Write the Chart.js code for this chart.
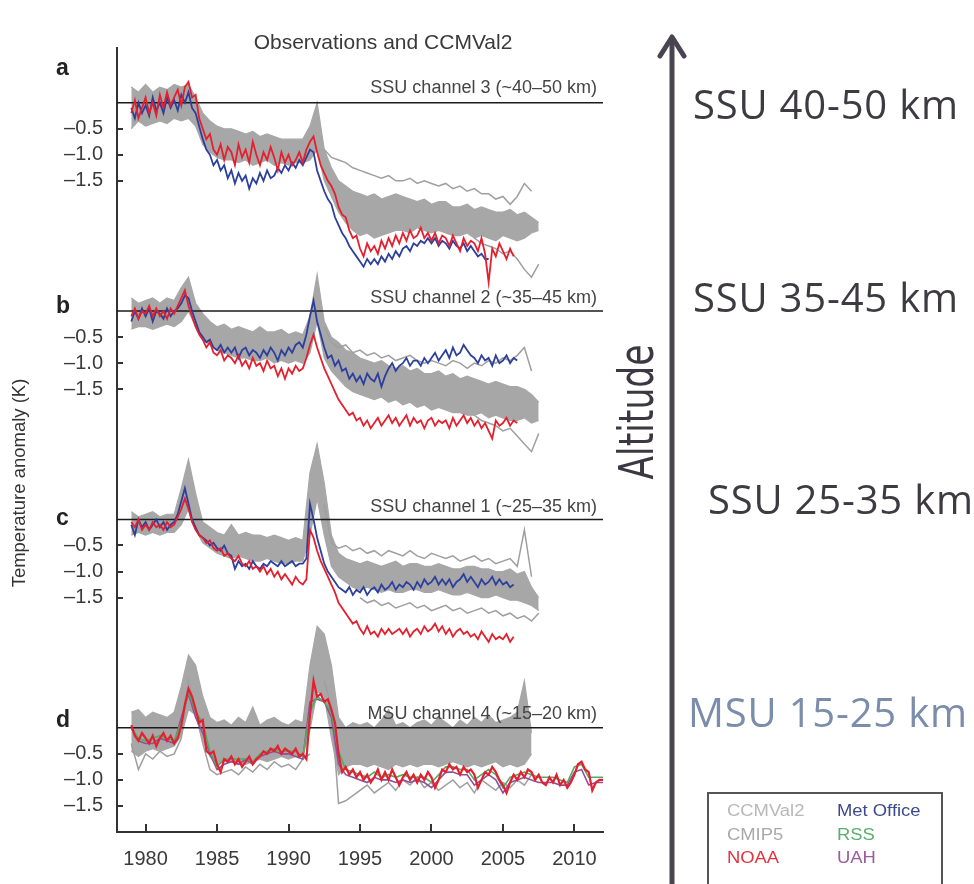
<!DOCTYPE html>
<html>
<head>
<meta charset="utf-8">
<script src="https://cdn.jsdelivr.net/npm/chart.js@4.4.1/dist/chart.umd.min.js"></script>
<style>
  html, body { margin: 0; padding: 0; background: #fff; }
  #wrap { position: relative; width: 974px; height: 884px; overflow: hidden; font-family: "Liberation Sans", Arial, sans-serif; }
  #chart { position: absolute; left: 0; top: 0; }
  .lbl { position: absolute; white-space: nowrap; line-height: 1; }
  .letter { font-weight: bold; font-size: 23px; color: #222; left: 56px; }
  .chan { font-size: 18px; color: #444; right: 377px; }
  .alt { font-family: "Open Sans", sans-serif; font-size: 40px; letter-spacing: 0.8px; color: #3e3a42; }
  #legend { position: absolute; left: 707px; top: 792px; width: 232px; height: 110px; border: 2px solid #555; background: #fff; }
  #legend div { position: absolute; font-size: 16px; line-height: 1; transform: scaleX(1.15); transform-origin: left top; }
</style>
</head>
<body>
<div id="wrap">
  <canvas id="chart" width="974" height="884"></canvas>

  <div class="lbl" style="left:383px;top:31px;font-size:21px;color:#3a3a3a;transform:translateX(-50%)">Observations and CCMVal2</div>
  <div class="lbl letter" style="top:56px">a</div>
  <div class="lbl letter" style="top:294px">b</div>
  <div class="lbl letter" style="top:506px">c</div>
  <div class="lbl letter" style="top:708px">d</div>
  <div class="lbl chan" style="top:78px">SSU channel 3 (~40–50 km)</div>
  <div class="lbl chan" style="top:288px">SSU channel 2 (~35–45 km)</div>
  <div class="lbl chan" style="top:497px">SSU channel 1 (~25–35 km)</div>
  <div class="lbl chan" style="top:704px">MSU channel 4 (~15–20 km)</div>
  <div class="lbl" style="left:19px;top:483px;font-size:18.5px;color:#333;transform:translate(-50%,-50%) rotate(-90deg)">Temperature anomaly (K)</div>

  <svg style="position:absolute;left:0;top:0" width="974" height="884">
    <line x1="672" y1="884" x2="672" y2="38" stroke="#4a4450" stroke-width="5"/>
    <polyline points="660,56 672,37 684,56" fill="none" stroke="#4a4450" stroke-width="5" stroke-linecap="round" stroke-linejoin="round"/>
  </svg>
  <div class="lbl" style="left:636px;top:412px;font-family:'Liberation Sans Narrow','DejaVu Sans Condensed',sans-serif;font-size:48px;color:#3c3742;transform:translate(-50%,-50%) rotate(-90deg) scaleX(0.8)">Altitude</div>
  <div class="lbl alt" style="left:693px;top:84px">SSU 40-50 km</div>
  <div class="lbl alt" style="left:693px;top:277px">SSU 35-45 km</div>
  <div class="lbl alt" style="left:708px;top:479px">SSU 25-35 km</div>
  <div class="lbl alt" style="left:688px;top:692px;color:#7b8dab">MSU 15-25 km</div>

  <div id="legend">
    <div style="left:18px;top:9px;color:#b8b8b8">CCMVal2</div>
    <div style="left:18px;top:33px;color:#a9a9a9">CMIP5</div>
    <div style="left:18px;top:56px;color:#e2343e">NOAA</div>
    <div style="left:128px;top:9px;color:#3c4a8c">Met Office</div>
    <div style="left:128px;top:33px;color:#5cae70">RSS</div>
    <div style="left:128px;top:56px;color:#9a5c9e">UAH</div>
  </div>
</div>

<script>
// ---- axes ----
const xTickYears = [1980, 1985, 1990, 1995, 2000, 2005, 2010];
const tickValues = [-0.5, -1.0, -1.5];
const tickLabels = ["–0.5", "–1.0", "–1.5"];
// panels a, b, c, d are stacked on one axis, 4 K apart
const panelOffsets = [12, 8, 4, 0];

// ---- observations, quarterly from 1979.0 ----
const obsStart = 1979;
const obsStep = 0.25;

const noaaA = [
  -0.2, 0.05, -0.3, -0.1,  0.1, -0.2, 0.0, -0.25,  0.15, -0.1, 0.2, -0.05,  0.1, 0.25, -0.05, 0.3,
  0.4, 0.1, 0.15, -0.3,  -0.5, -0.7, -0.6, -0.9,  -1.0, -0.8, -1.1, -0.85,  -0.95, -1.2, -0.8, -1.05,
  -0.9, -1.15, -0.75, -1.0,  -1.2, -0.95, -1.1, -0.85,  -1.05, -1.3, -0.95, -1.15,  -1.0, -1.2, -1.1, -0.95,
  -1.15, -0.9, -0.75, -0.65,  -0.95, -1.2, -1.35, -1.5,  -1.6, -1.75, -2.0, -2.15,  -2.2, -2.45, -2.6, -2.55,
  -2.8, -2.95, -2.7, -2.85,  -2.75, -2.9, -2.65, -2.8,  -2.6, -2.75, -2.55, -2.7,  -2.5, -2.65, -2.45, -2.6,
  -2.55, -2.4, -2.6, -2.5,  -2.65, -2.5, -2.7, -2.55,  -2.6, -2.75, -2.55, -2.7,  -2.85, -2.6, -2.75, -2.65,
  -2.7, -2.85, -2.6, -2.9,  -3.45, -2.8, -2.95, -2.7,  -2.85, -3.0, -2.8, -2.95
];
const metA = [
  -0.1, -0.3, 0.0, -0.2,  -0.05, -0.25, 0.1, -0.15,  0.0, -0.2, 0.1, -0.1,  0.05, -0.15, 0.15, 0.0,
  0.2, -0.1, -0.2, -0.45,  -0.7, -0.9, -1.0, -1.2,  -1.1, -1.3, -1.2, -1.45,  -1.3, -1.55, -1.35, -1.5,
  -1.4, -1.65, -1.45, -1.55,  -1.35, -1.5, -1.3, -1.45,  -1.4, -1.25, -1.35, -1.2,  -1.3, -1.15, -1.25, -1.1,
  -1.2, -1.05, -0.9, -0.95,  -1.3, -1.5, -1.7, -1.85,  -1.95, -2.2, -2.35, -2.5,  -2.6, -2.75, -2.85, -2.95,
  -3.05, -3.15, -3.0, -3.1,  -3.0, -3.1, -2.95, -3.05,  -2.9, -3.0, -2.85, -2.95,  -2.8, -2.75, -2.85, -2.7,
  -2.75, -2.65, -2.7, -2.6,  -2.7, -2.6, -2.75, -2.65,  -2.7, -2.8, -2.65, -2.75,  -2.8, -2.7, -2.85, -2.75,
  -2.85, -2.95, -2.9, -3.0,  -3.0
];
const noaaB = [
  -0.1, 0.05, -0.15, 0.0,  -0.05, 0.1, -0.1, 0.05,  -0.1, 0.0, -0.15, 0.05,  -0.05, 0.1, 0.25, 0.4,
  0.1, -0.1, -0.3, -0.45,  -0.55, -0.7, -0.6, -0.8,  -0.85, -0.75, -0.95, -0.85,  -0.9, -1.0, -0.85, -1.05,
  -0.95, -1.1, -0.9, -1.05,  -1.0, -1.15, -0.95, -1.1,  -1.05, -1.25, -1.1, -1.3,  -1.1, -1.2, -1.05, -1.15,
  -1.1, -0.9, -0.65, -0.45,  -0.7, -0.9, -1.1, -1.25,  -1.4, -1.55, -1.7, -1.8,  -1.9, -2.0, -1.95, -2.1,
  -2.05, -2.2, -2.1, -2.25,  -2.15, -2.05, -2.2, -2.1,  -2.0, -2.15, -2.05, -2.2,  -2.1, -2.0, -2.2, -2.05,
  -2.15, -2.1, -2.25, -2.1,  -2.05, -2.2, -2.1, -2.15,  -2.1, -2.25, -2.05, -2.2,  -2.1, -2.0, -2.15, -2.05,
  -2.2, -2.1, -2.25, -2.15,  -2.3, -2.45, -2.1, -2.2,  -2.15, -2.05, -2.2, -2.1,  -2.15
];
const metB = [
  -0.2, 0.0, -0.15, 0.05,  -0.1, 0.05, -0.2, 0.0,  -0.05, -0.15, 0.05, -0.1,  0.0, 0.05, 0.15, 0.3,
  0.25, 0.0, -0.2, -0.4,  -0.5, -0.6, -0.55, -0.7,  -0.75, -0.65, -0.8, -0.7,  -0.8, -0.7, -0.9, -0.75,
  -0.7, -0.85, -0.75, -0.8,  -0.9, -0.75, -0.85, -0.7,  -0.8, -0.95, -0.75, -0.85,  -0.7, -0.8, -0.65, -0.6,
  -0.7, -0.45, -0.1, 0.2,  -0.2, -0.45, -0.7, -0.9,  -0.85, -1.05, -0.95, -1.15,  -1.1, -1.3, -1.2, -1.35,
  -1.25, -1.4, -1.2, -1.3,  -1.35, -1.2, -1.45, -1.25,  -1.1, -1.0, -1.15, -1.05,  -1.0, -0.9, -1.05, -0.95,
  -0.95, -1.05, -0.9, -1.0,  -0.9, -0.8, -0.95, -0.85,  -0.75, -0.9, -0.7, -0.85,  -0.8, -0.65, -0.75, -0.85,
  -0.9, -1.0, -0.85, -0.95,  -0.9, -1.05, -0.85, -1.0,  -0.95, -0.85, -1.0, -0.9,  -0.95
];
const noaaC = [
  -0.05, -0.15, 0.0, -0.2,  -0.1, -0.2, -0.05, -0.15,  -0.1, -0.2, -0.05, -0.15,  -0.1, 0.05, 0.2, 0.4,
  0.2, -0.05, -0.2, -0.3,  -0.35, -0.45, -0.4, -0.55,  -0.6, -0.55, -0.7, -0.65,  -0.75, -0.8, -0.7, -0.85,
  -0.9, -0.8, -0.95, -0.9,  -1.0, -0.9, -1.05, -0.95,  -1.1, -1.0, -1.15, -1.05,  -1.15, -1.25, -1.1, -1.2,
  -1.25, -1.15, -0.2, -0.35,  -0.6, -0.8, -0.95, -1.1,  -1.25, -1.4, -1.6, -1.7,  -1.8, -1.9, -2.0, -1.95,
  -2.1, -2.2, -2.05, -2.2,  -2.15, -2.25, -2.1, -2.2,  -2.1, -2.2, -2.15, -2.1,  -2.2, -2.1, -2.25, -2.15,
  -2.1, -2.2, -2.05, -2.15,  -2.1, -2.0, -2.15, -2.05,  -2.2, -2.1, -2.25, -2.15,  -2.1, -2.2, -2.15, -2.25,
  -2.2, -2.3, -2.15, -2.25,  -2.35, -2.2, -2.3, -2.25,  -2.3, -2.2, -2.35, -2.25
];
const metC = [
  -0.1, -0.3, 0.0, -0.15,  -0.05, -0.2, -0.1, 0.0,  -0.15, -0.05, -0.2, -0.1,  -0.05, 0.1, 0.35, 0.6,
  0.3, 0.0, -0.15, -0.3,  -0.35, -0.4, -0.5, -0.45,  -0.55, -0.6, -0.5, -0.65,  -0.7, -0.95, -0.8, -0.9,
  -0.85, -0.95, -0.8, -0.9,  -0.95, -0.85, -0.9, -0.8,  -0.85, -0.9, -0.8, -0.9,  -0.85, -0.8, -0.9, -0.85,
  -0.85, -0.75, 0.3, 0.0,  -0.35, -0.6, -0.85, -1.0,  -1.1, -1.2, -1.3, -1.35,  -1.4, -1.3, -1.45, -1.35,
  -1.4, -1.3, -1.45, -1.35,  -1.3, -1.4, -1.25, -1.35,  -1.3, -1.2, -1.35, -1.25,  -1.3, -1.2, -1.25, -1.35,
  -1.2, -1.3, -1.15, -1.25,  -1.2, -1.1, -1.25, -1.15,  -1.25, -1.15, -1.3, -1.2,  -1.15, -1.05, -1.2, -1.1,
  -1.2, -1.3, -1.15, -1.25,  -1.2, -1.1, -1.25, -1.15,  -1.25, -1.2, -1.3, -1.25
];
const noaaD = [
  0.05, -0.15, -0.25, -0.1,  -0.2, -0.3, -0.15, -0.35,  -0.2, -0.1, -0.25, -0.15,  -0.3, -0.2, 0.05, 0.45,
  0.75, 0.6, 0.35, 0.1,  0.15, -0.45, -0.5, -0.45,  -0.7, -0.85, -0.6, -0.65,  -0.55, -0.7, -0.6, -0.75,
  -0.65, -0.55, -0.7, -0.6,  -0.55, -0.45, -0.5, -0.4,  -0.45, -0.35, -0.5, -0.4,  -0.45, -0.5, -0.4, -0.55,
  -0.5, -0.6, 0.25, 0.9,  0.6, 0.65, 0.5, 0.55,  0.35, 0.1, -0.5, -0.85,  -0.75, -0.9, -0.8, -0.95,
  -0.85, -1.0, -0.9, -1.05,  -0.95, -0.8, -1.0, -0.85,  -1.0, -0.8, -0.95, -1.1,  -0.95, -0.85, -1.0, -0.9,
  -1.05, -0.9, -1.0, -0.85,  -0.95, -1.15, -1.0, -0.8,  -0.85, -0.7, -0.8, -0.75,  -0.9, -0.75, -0.85, -0.8,
  -0.9, -1.15, -1.0, -0.85,  -0.9, -0.75, -0.85, -1.0,  -1.1, -1.25, -1.05, -0.9,  -1.0, -0.85, -0.95, -0.8,
  -0.85, -1.0, -0.9, -1.05,  -1.1, -0.95, -1.05, -0.9,  -1.1, -1.0, -1.15, -1.05,  -0.9, -0.7, -0.65, -0.8,
  -0.85, -1.2, -1.05, -1.0,  -1.0
];

// ---- RSS and UAH (panel d), half-yearly from 1979.0 ----
const halfStep = 0.5;
const rssD = [
  0.0, -0.2, -0.25, -0.2, -0.15, -0.2, -0.25, 0.1, 0.7, 0.3, 0.1, -0.45, -0.75, -0.6, -0.6, -0.6,
  -0.6, -0.65, -0.5, -0.45, -0.4, -0.45, -0.45, -0.45, -0.55, 0.3, 0.6, 0.5, 0.3, -0.45, -0.8, -0.85,
  -0.9, -0.95, -0.85, -0.95, -0.9, -0.95, -0.9, -0.95, -0.95, -0.95, -1.05, -0.9, -0.75, -0.75, -0.8, -0.8,
  -1.0, -0.9, -0.8, -0.9, -1.15, -0.95, -0.9, -0.85, -0.9, -0.95, -0.95, -0.95, -1.0, -1.05, -0.75, -0.7,
  -0.95, -0.95, -0.95
];
const uahD = [
  0.0, -0.25, -0.3, -0.3, -0.2, -0.25, -0.3, 0.2, 0.65, 0.2, -0.1, -0.5, -0.8, -0.7, -0.65, -0.7,
  -0.6, -0.7, -0.55, -0.5, -0.45, -0.5, -0.5, -0.55, -0.6, 0.5, 0.55, 0.5, 0.2, -0.7, -0.9, -0.95,
  -1.0, -1.05, -0.95, -1.0, -1.0, -1.05, -1.0, -1.05, -1.0, -1.05, -1.15, -1.0, -0.85, -0.85, -0.9, -0.9,
  -1.1, -1.0, -0.9, -1.0, -1.25, -1.05, -1.0, -0.95, -1.0, -1.05, -1.05, -1.05, -1.1, -1.1, -0.85, -0.8,
  -1.1, -1.05, -1.05
];

// ---- model ensemble (CCMVal2 / CMIP5) envelope, half-yearly from 1979.0 ----
const bandStart = 1979;
const bandHighA = [
  0.3, 0.2, 0.35, 0.2, 0.3, 0.25, 0.35, 0.3, 0.35, 0.1, -0.2, -0.35, -0.45, -0.5, -0.5, -0.55,
  -0.6, -0.55, -0.65, -0.6, -0.65, -0.7, -0.7, -0.7, -0.7, -0.45, 0.0, -0.9, -1.25, -1.5, -1.6, -1.7,
  -1.75, -1.8, -1.75, -1.85, -1.8, -1.75, -1.8, -1.85, -1.9, -1.85, -1.95, -1.9, -1.9, -2.0, -2.0, -1.95,
  -2.05, -2.0, -2.05, -2.1, -2.1, -2.05, -2.15, -2.1, -2.2, -2.3
];
const bandLowA = [
  -0.5, -0.35, -0.45, -0.4, -0.35, -0.4, -0.3, -0.35, -0.3, -0.45, -0.8, -0.95, -1.05, -1.1, -1.1, -1.15,
  -1.1, -1.2, -1.15, -1.1, -1.2, -1.15, -1.2, -1.15, -1.15, -1.1, -0.9, -1.5, -1.8, -2.1, -2.3, -2.45,
  -2.55, -2.5, -2.6, -2.55, -2.5, -2.45, -2.45, -2.5, -2.4, -2.45, -2.5, -2.45, -2.5, -2.55, -2.55, -2.5,
  -2.6, -2.55, -2.6, -2.65, -2.55, -2.6, -2.65, -2.6, -2.5, -2.45
];
const bandHighB = [
  0.25, 0.15, 0.2, 0.25, 0.15, 0.25, 0.2, 0.45, 0.65, 0.15, -0.05, -0.2, -0.3, -0.25, -0.35, -0.3,
  -0.35, -0.4, -0.3, -0.4, -0.4, -0.35, -0.45, -0.4, -0.45, -0.1, 0.7, -0.2, -0.5, -0.6, -0.75, -0.8,
  -0.9, -0.95, -1.0, -0.95, -1.05, -1.1, -1.05, -1.15, -1.1, -1.2, -1.2, -1.15, -1.25, -1.2, -1.3, -1.25,
  -1.3, -1.35, -1.4, -1.35, -1.4, -1.45, -1.45, -1.5, -1.6, -1.75
];
const bandLowB = [
  -0.35, -0.3, -0.3, -0.35, -0.3, -0.25, -0.3, -0.2, 0.0, -0.3, -0.55, -0.65, -0.75, -0.8, -0.85, -0.9,
  -0.9, -0.95, -0.95, -0.9, -1.0, -0.95, -1.0, -0.95, -1.0, -0.8, -0.2, -0.9, -1.15, -1.3, -1.45, -1.55,
  -1.6, -1.65, -1.7, -1.65, -1.75, -1.7, -1.8, -1.75, -1.85, -1.8, -1.9, -1.85, -1.9, -1.95, -1.95, -2.0,
  -2.0, -1.95, -2.05, -2.0, -2.05, -2.1, -2.1, -2.05, -2.15, -2.1
];
const bandHighC = [
  0.15, 0.05, 0.1, 0.15, 0.05, 0.1, 0.1, 0.6, 1.15, 0.5, -0.05, -0.15, -0.25, -0.3, -0.1, -0.3,
  -0.25, -0.3, -0.3, -0.35, -0.3, -0.35, -0.4, -0.35, -0.4, 0.9, 1.45, 0.7, -0.3, -0.65, -0.75, -0.8,
  -0.85, -0.8, -0.85, -0.9, -0.85, -0.8, -0.9, -0.85, -0.85, -0.9, -0.9, -0.85, -0.9, -0.95, -0.95, -0.9,
  -0.9, -0.95, -0.95, -1.0, -1.0, -0.95, -1.05, -1.0, -1.3, -1.5
];
const bandLowC = [
  -0.3, -0.25, -0.3, -0.25, -0.3, -0.25, -0.25, -0.1, 0.2, -0.2, -0.45, -0.55, -0.65, -0.7, -0.75, -0.7,
  -0.75, -0.8, -0.8, -0.75, -0.8, -0.85, -0.85, -0.8, -0.8, -0.3, 0.4, -0.3, -0.9, -1.1, -1.2, -1.3,
  -1.35, -1.3, -1.35, -1.4, -1.35, -1.4, -1.4, -1.35, -1.35, -1.4, -1.4, -1.35, -1.4, -1.45, -1.45, -1.4,
  -1.45, -1.5, -1.5, -1.45, -1.5, -1.55, -1.55, -1.6, -1.65, -1.75
];
const bandHighD = [
  0.3, 0.35, 0.2, 0.3, 0.25, 0.2, 0.3, 0.8, 1.4, 1.2, 0.6, 0.2, 0.1, 0.15, 0.05, 0.2,
  0.1, 0.4, 0.05, 0.15, 0.2, 0.1, 0.05, 0.15, 0.1, 1.2, 1.95, 1.8, 1.2, 0.2, 0.0, 0.1,
  0.05, 0.1, 0.0, 0.15, 0.35, 0.05, 0.1, 0.0, 0.1, 0.15, 0.05, 0.2, 0.1, 0.0, 0.15, 0.05,
  0.2, 0.1, 0.25, 0.1, 0.15, 0.2, 0.3, 0.9, -0.1
];
const bandLowD = [
  -0.45, -0.55, -0.45, -0.4, -0.45, -0.4, -0.35, -0.15, 0.35, 0.25, -0.25, -0.55, -0.7, -0.65, -0.65, -0.7,
  -0.7, -0.65, -0.6, -0.65, -0.6, -0.55, -0.6, -0.55, -0.55, -0.05, 0.7, 0.6, -0.2, -0.9, -0.75, -0.7,
  -0.7, -0.75, -0.7, -0.75, -0.8, -0.7, -0.75, -0.7, -0.75, -0.7, -0.7, -0.75, -0.7, -0.65, -0.7, -0.75,
  -0.7, -0.75, -0.7, -0.65, -0.75, -0.7, -0.75, -0.7, -0.5
];

// ---- single model runs standing out of the envelope ----
const runStartLate = 1992.5;
const runHighA = [
  -0.9, -1.05, -1.1, -1.15, -1.25, -1.3, -1.35, -1.4, -1.45, -1.4, -1.5, -1.5, -1.45, -1.55, -1.5, -1.55,
  -1.6, -1.55, -1.65, -1.6, -1.7, -1.65, -1.75, -1.75, -1.85, -1.8, -1.95, -1.8, -1.55, -1.7
];
const runHighB = [
  -0.3, -0.6, -0.7, -0.65, -0.8, -0.75, -0.85, -0.8, -0.9, -0.85, -0.95, -0.9, -0.85, -0.95, -1.0, -0.95,
  -1.0, -1.05, -0.95, -1.0, -1.1, -1.0, -1.05, -0.95, -1.0, -0.9, -0.95, -0.85, -0.7, -1.15
];
const runHighC = [
  0.3, -0.45, -0.55, -0.5, -0.6, -0.55, -0.65, -0.6, -0.7, -0.6, -0.65, -0.7, -0.6, -0.7, -0.75, -0.65,
  -0.7, -0.75, -0.7, -0.8, -0.75, -0.7, -0.8, -0.75, -0.85, -0.8, -0.75, -0.9, -0.2, -1.1
];
const runLowD = [
  0.9, 0.4, -1.45, -1.4, -1.3, -1.2, -1.1, -1.25, -1.15, -1.05, -1.2, -1.0, -1.1, -0.95, -1.15, -1.05,
  -1.2, -1.1, -1.0, -1.15, -1.05, -1.25, -1.0, -1.1, -1.2, -1.05, -1.15, -1.0, -1.1, -0.9
];
const runStartEnd = 2003;
const runLowA = [-2.6, -2.7, -2.75, -2.8, -2.9, -2.85, -3.0, -3.2, -3.35, -3.1];
const runLowB = [-2.0, -2.1, -2.15, -2.2, -2.3, -2.25, -2.4, -2.55, -2.7, -2.35];
const runStartMid = 1995;
const runLowC = [
  -1.5, -1.6, -1.55, -1.65, -1.6, -1.7, -1.65, -1.6, -1.7, -1.65, -1.75, -1.7, -1.65,
  -1.75, -1.7, -1.8, -1.75, -1.7, -1.8, -1.75, -1.85, -1.8, -1.9, -1.85, -1.95, -1.8
];
const runEarlyD = [
  -0.3, -0.8, -0.5, -0.6, -0.45, -0.55, -0.5, -0.2, 0.9, 0.3, -0.3, -0.8, -0.9,
  -0.85, -0.8, -0.9, -0.75, -0.85, -0.7, -0.8, -0.65, -0.75, -0.7, -0.8, -0.6, -0.5
];

// ---- colours ----
const gray = "#a7a7a7";
const grayLine = "#9f9f9f";
const red = "#e5202e";
const blue = "#2d3f9c";
const green = "#4caf62";
const purple = "#8f4f9e";

function toPoints(start, step, values, offset) {
  return values.map((v, i) => ({ x: start + i * step, y: v + offset }));
}

function lineSet(points, color, width, order) {
  return { data: points, borderColor: color, borderWidth: width, order, fill: false };
}

const [oA, oB, oC, oD] = panelOffsets;
const datasets = [];

// observations (drawn on top)
datasets.push(lineSet(toPoints(obsStart, obsStep, noaaA, oA), red, 1.8, 1));
datasets.push(lineSet(toPoints(obsStart, obsStep, noaaB, oB), red, 1.8, 1));
datasets.push(lineSet(toPoints(obsStart, obsStep, noaaC, oC), red, 1.8, 1));
datasets.push(lineSet(toPoints(obsStart, obsStep, noaaD, oD), red, 2.2, 1));
datasets.push(lineSet(toPoints(obsStart, obsStep, metA, oA), blue, 1.8, 2));
datasets.push(lineSet(toPoints(obsStart, obsStep, metB, oB), blue, 1.8, 2));
datasets.push(lineSet(toPoints(obsStart, obsStep, metC, oC), blue, 1.8, 2));
datasets.push(lineSet(toPoints(obsStart, halfStep, rssD, oD), green, 1.6, 2));
datasets.push(lineSet(toPoints(obsStart, halfStep, uahD, oD), purple, 1.6, 2));

// zero lines
panelOffsets.forEach(o => {
  datasets.push(lineSet([{ x: 1978, y: o }, { x: 2012, y: o }], "#1a1a1a", 1.6, 3));
});

// single runs
datasets.push(lineSet(toPoints(runStartLate, halfStep, runHighA, oA), grayLine, 1.5, 4));
datasets.push(lineSet(toPoints(runStartLate, halfStep, runHighB, oB), grayLine, 1.5, 4));
datasets.push(lineSet(toPoints(runStartLate, halfStep, runHighC, oC), grayLine, 1.5, 4));
datasets.push(lineSet(toPoints(runStartLate, halfStep, runLowD, oD), grayLine, 1.5, 4));
datasets.push(lineSet(toPoints(runStartEnd, halfStep, runLowA, oA), grayLine, 1.5, 4));
datasets.push(lineSet(toPoints(runStartEnd, halfStep, runLowB, oB), grayLine, 1.5, 4));
datasets.push(lineSet(toPoints(runStartMid, halfStep, runLowC, oC), grayLine, 1.5, 4));
datasets.push(lineSet(toPoints(bandStart, halfStep, runEarlyD, oD), grayLine, 1.5, 4));

// ensemble envelopes: upper filled down to the next dataset
[[bandHighA, bandLowA, oA], [bandHighB, bandLowB, oB], [bandHighC, bandLowC, oC], [bandHighD, bandLowD, oD]]
  .forEach(([hi, lo, o]) => {
    datasets.push({ data: toPoints(bandStart, halfStep, hi, o), borderColor: gray, borderWidth: 1.2,
      backgroundColor: gray, fill: "+1", order: 5 });
    datasets.push({ data: toPoints(bandStart, halfStep, lo, o), borderColor: gray, borderWidth: 1.2,
      fill: false, order: 5 });
  });

const yTicks = panelOffsets.flatMap(o => tickValues.map(v => o + v));
const yTickText = panelOffsets.flatMap(() => tickLabels);

// short inward tick marks on both axes
const tickMarks = {
  id: "tickMarks",
  afterDraw(chart) {
    const { ctx, chartArea, scales: { x, y } } = chart;
    ctx.save();
    ctx.strokeStyle = "#333";
    ctx.lineWidth = 2;
    ctx.beginPath();
    yTicks.forEach(v => {
      const py = Math.round(y.getPixelForValue(v));
      ctx.moveTo(chartArea.left, py);
      ctx.lineTo(chartArea.left + 6, py);
    });
    xTickYears.forEach(v => {
      const px = Math.round(x.getPixelForValue(v));
      ctx.moveTo(px, chartArea.bottom);
      ctx.lineTo(px, chartArea.bottom - 8);
    });
    ctx.stroke();
    ctx.restore();
  }
};

Chart.defaults.font.family = "'Liberation Sans', Arial, sans-serif";

new Chart(document.getElementById("chart"), {
  type: "line",
  data: { datasets },
  plugins: [tickMarks],
  options: {
    responsive: false,
    animation: false,
    layout: { padding: { left: 0, right: 371, top: 48, bottom: 12 } },
    elements: { point: { radius: 0 }, line: { tension: 0 } },
    plugins: { legend: { display: false }, tooltip: { enabled: false } },
    scales: {
      x: {
        type: "linear",
        min: 1978,
        max: 2012,
        afterBuildTicks: scale => { scale.ticks = xTickYears.map(v => ({ value: v })); },
        afterFit: scale => { scale.height = 40; },
        grid: { display: false },
        border: { display: true, color: "#333", width: 2 },
        ticks: { font: { size: 20 }, color: "#3a3a3a", padding: 7, maxRotation: 0,
          callback: v => String(v) }
      },
      y: {
        type: "linear",
        min: -2,
        max: 13.05,
        afterBuildTicks: scale => { scale.ticks = yTicks.map(v => ({ value: v })); },
        afterFit: scale => { scale.width = 117; },
        grid: { display: false },
        border: { display: true, color: "#333", width: 2 },
        ticks: { font: { size: 20 }, color: "#3a3a3a", padding: 6,
          callback: (v, i) => yTickText[i] }
      }
    }
  }
});
</script>
</body>
</html>
